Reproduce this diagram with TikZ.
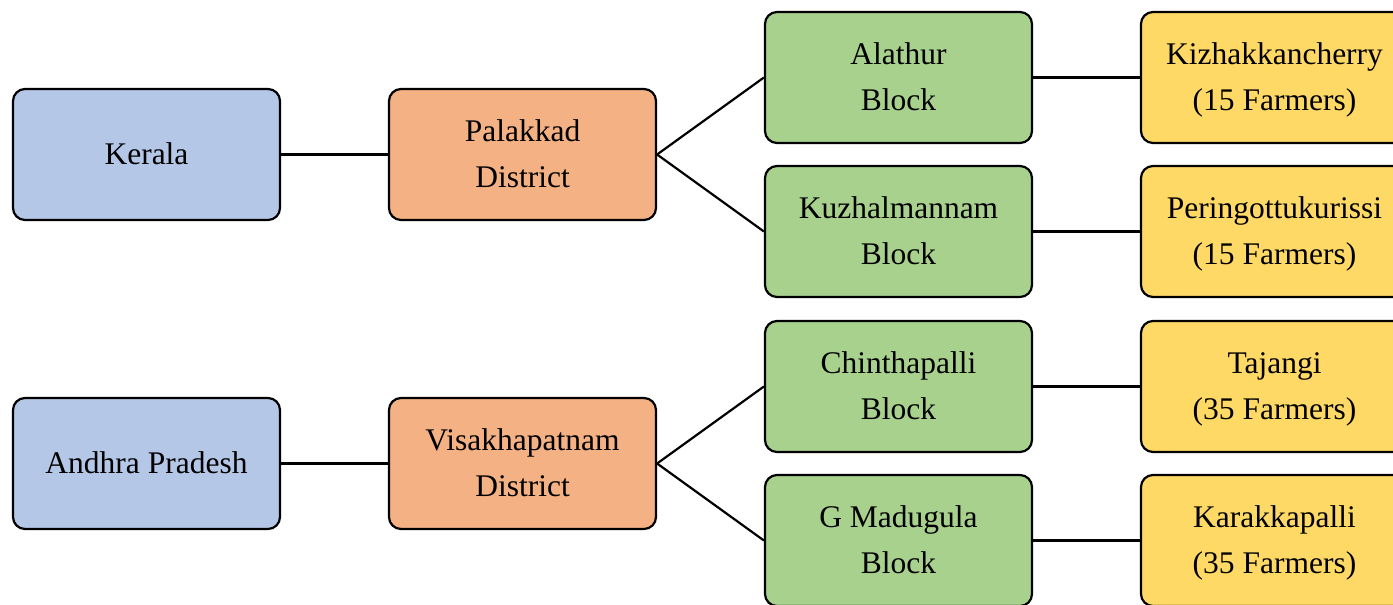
\documentclass[tikz,border=0pt]{standalone}
\usepackage{fontspec}
\setmainfont{Liberation Serif}
\definecolor{cblue}{HTML}{B4C7E7}
\definecolor{corange}{HTML}{F4B183}
\definecolor{cgreen}{HTML}{A9D18E}
\definecolor{cyellow}{HTML}{FFD966}
\tikzset{
  box/.style={draw=black, line width=2.2pt, rounded corners=12pt, minimum width=267pt, minimum height=131pt, inner sep=0pt},
  txt/.style={anchor=base, inner sep=0pt, font=\fontsize{31.5}{46}\selectfont},
  conn/.style={draw=black, line width=2.2pt}
}
% two-line box: name, x, y, fill, line 1, line 2
\newcommand\boxtwo[6]{%
  \node[box, fill=#4] (#1) at (#2,#3) {};
  \node[txt] (#1-a) at ([yshift=13.2pt]#1.center) {#5};
  \node[txt] (#1-b) at ([yshift=-33.3pt]#1.center) {#6};}
% one-line box: name, x, y, fill, text
\newcommand\boxone[5]{%
  \node[box, fill=#4] (#1) at (#2,#3) {};
  \node[txt] (#1-a) at ([yshift=-9.5pt]#1.center) {#5};}
\begin{document}
\begin{tikzpicture}[x=1pt,y=-1pt]
\useasboundingbox (0,0) rectangle (1393,605);
% Kerala branch
\boxone{ker}{146.5}{154.5}{cblue}{Kerala}
\boxtwo{pal}{522.5}{154.5}{corange}{Palakkad}{District}
\boxtwo{ala}{898.5}{77.5}{cgreen}{Alathur}{Block}
\boxtwo{kuz}{898.5}{231.5}{cgreen}{Kuzhalmannam}{Block}
\boxtwo{kiz}{1274.5}{77.5}{cyellow}{Kizhakkancherry}{(15 Farmers)}
\boxtwo{per}{1274.5}{231.5}{cyellow}{Peringottukurissi}{(15 Farmers)}
% Andhra branch
\boxone{ap}{146.5}{463.5}{cblue}{Andhra Pradesh}
\boxtwo{vis}{522.5}{463.5}{corange}{Visakhapatnam}{District}
\boxtwo{chi}{898.5}{386.5}{cgreen}{Chinthapalli}{Block}
\boxtwo{gma}{898.5}{540.5}{cgreen}{G Madugula}{Block}
\boxtwo{taj}{1274.5}{386.5}{cyellow}{Tajangi}{(35 Farmers)}
\boxtwo{kar}{1274.5}{540.5}{cyellow}{Karakkapalli}{(35 Farmers)}
% connectors
\draw[conn] (ker.east) -- (pal.west);
\draw[conn] (pal.east) -- (ala.west);
\draw[conn] (pal.east) -- (kuz.west);
\draw[conn] (ala.east) -- (kiz.west);
\draw[conn] (kuz.east) -- (per.west);
\draw[conn] (ap.east) -- (vis.west);
\draw[conn] (vis.east) -- (chi.west);
\draw[conn] (vis.east) -- (gma.west);
\draw[conn] (chi.east) -- (taj.west);
\draw[conn] (gma.east) -- (kar.west);
\end{tikzpicture}
\end{document}
